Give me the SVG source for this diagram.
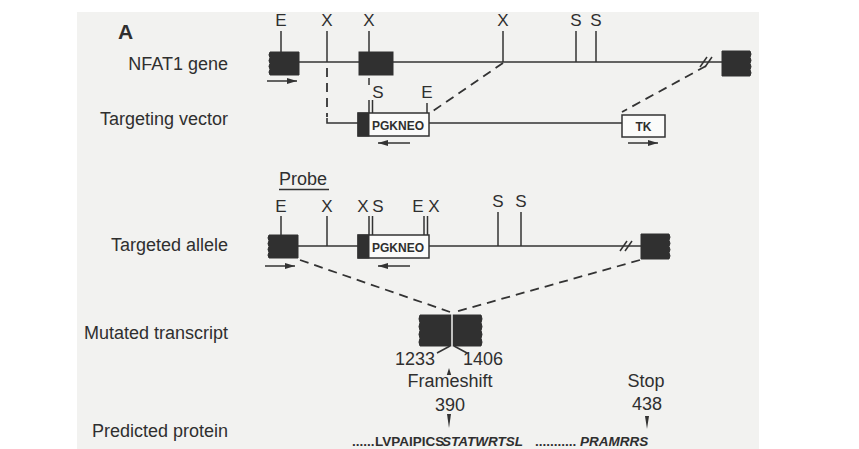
<svg xmlns="http://www.w3.org/2000/svg" width="859" height="449" viewBox="0 0 859 449">
<defs>
<style>
text{font-family:"Liberation Sans",Arial,Helvetica,sans-serif;fill:#2f2f2f}
.lab{font-size:18px;text-anchor:end}
.site{font-size:17px;text-anchor:middle}
.mid{font-size:18px;text-anchor:middle}
.box{font-size:12px;font-weight:bold;text-anchor:middle}
.ln{stroke:#333;stroke-width:1.6;fill:none}
.tk{stroke:#333;stroke-width:1.5;fill:none}
.dash{stroke:#333;stroke-width:1.8;fill:none;stroke-dasharray:9 6}
.exon{fill:#303030;stroke:#303030;stroke-width:1}
.vbox{fill:#fbfbfa;stroke:#333;stroke-width:1.5}
.arr{stroke:#333;stroke-width:1.5;fill:none;marker-end:url(#ah)}
.seq{font-size:13.5px;font-weight:bold}
</style>
<marker id="ah" viewBox="0 0 10 6" refX="10" refY="3" markerWidth="10" markerHeight="6" markerUnits="userSpaceOnUse" orient="auto">
<path d="M0,0 L10,3 L0,6 Z" fill="#333"/>
</marker>
</defs>
<rect x="0" y="0" width="859" height="449" fill="#ffffff"/>
<rect x="77" y="12" width="682" height="437" fill="#f2f2f0"/>
<text x="118" y="39" style="font-size:21px;font-weight:bold">A</text>
<g id="labels">
<text class="lab" x="228" y="70">NFAT1 gene</text>
<text class="lab" x="228" y="125">Targeting vector</text>
<text class="lab" x="228" y="251">Targeted allele</text>
<text class="lab" x="228" y="339">Mutated transcript</text>
<text class="lab" x="228" y="437">Predicted protein</text>
</g>
<g id="gene">
<line class="ln" x1="299" y1="62" x2="722" y2="62"/>
<path class="exon" d="M299,52 L270,52 q-2,2.9 0,5.75 q-2,2.9 0,5.75 q-2,2.9 0,5.75 q-2,2.9 0,5.75 L299,75 Z"/>
<rect class="exon" x="359" y="52" width="34" height="23"/>
<path class="exon" d="M722,51 L750,51 q2,3.1 0,6.25 q2,3.1 0,6.25 q2,3.1 0,6.25 q2,3.1 0,6.25 L722,76 Z"/>
<line class="tk" x1="281" y1="31" x2="281" y2="52"/>
<line class="tk" x1="327" y1="31" x2="327" y2="62"/>
<line class="tk" x1="369" y1="31" x2="369" y2="52"/>
<line class="tk" x1="503" y1="31" x2="503" y2="62"/>
<line class="tk" x1="576" y1="31" x2="576" y2="62"/>
<line class="tk" x1="596" y1="31" x2="596" y2="62"/>
<text class="site" x="281" y="26">E</text>
<text class="site" x="327" y="26">X</text>
<text class="site" x="369" y="26">X</text>
<text class="site" x="503" y="26">X</text>
<text class="site" x="576" y="26">S</text>
<text class="site" x="596" y="26">S</text>
<line class="tk" x1="700" y1="67" x2="707" y2="57"/>
<line class="tk" x1="705" y1="67" x2="712" y2="57"/>
<line class="arr" x1="267" y1="81" x2="297" y2="81"/>
</g>
<g id="vector">
<path class="ln" d="M327,118 V123 H358 M429,123 H622"/>
<rect class="vbox" x="358" y="113" width="71" height="23"/>
<rect class="exon" x="358" y="113" width="11" height="23"/>
<text class="box" x="398" y="130">PGKNEO</text>
<line class="tk" x1="369" y1="100" x2="369" y2="113"/>
<line class="tk" x1="372.5" y1="100" x2="372.5" y2="113"/>
<text class="site" x="378" y="98">S</text>
<line class="tk" x1="427" y1="103" x2="427" y2="113"/>
<text class="site" x="427" y="98">E</text>
<rect class="vbox" x="622" y="115" width="43" height="22"/>
<text class="box" x="643.5" y="131">TK</text>
<line class="arr" x1="410" y1="143" x2="378" y2="143"/>
<line class="arr" x1="628" y1="143" x2="658" y2="143"/>
</g>
<g id="allele">
<text class="mid" x="303" y="185">Probe</text>
<line class="tk" x1="279" y1="189.5" x2="329" y2="189.5"/>
<line class="ln" x1="298" y1="246" x2="641" y2="246"/>
<path class="exon" d="M298,235 L269,235 q-2,2.9 0,5.75 q-2,2.9 0,5.75 q-2,2.9 0,5.75 q-2,2.9 0,5.75 L298,258 Z"/>
<line class="tk" x1="281" y1="216" x2="281" y2="235"/>
<line class="tk" x1="327" y1="216" x2="327" y2="246"/>
<text class="site" x="281" y="212">E</text>
<text class="site" x="327" y="212">X</text>
<rect class="vbox" x="358" y="235" width="71" height="23"/>
<rect class="exon" x="358" y="235" width="11" height="23"/>
<text class="box" x="398" y="252">PGKNEO</text>
<line class="tk" x1="369" y1="216" x2="369" y2="235"/>
<line class="tk" x1="372.5" y1="216" x2="372.5" y2="235"/>
<text class="site" x="363" y="212">X</text>
<text class="site" x="378" y="212">S</text>
<line class="tk" x1="424" y1="216" x2="424" y2="235"/>
<line class="tk" x1="427.5" y1="216" x2="427.5" y2="235"/>
<text class="site" x="418" y="212">E</text>
<text class="site" x="434" y="212">X</text>
<line class="tk" x1="498" y1="212" x2="498" y2="246"/>
<line class="tk" x1="521" y1="212" x2="521" y2="246"/>
<text class="site" x="498" y="207">S</text>
<text class="site" x="521" y="207">S</text>
<line class="tk" x1="620" y1="251" x2="627" y2="241"/>
<line class="tk" x1="625" y1="251" x2="632" y2="241"/>
<path class="exon" d="M641,234 L669,234 q2,3.1 0,6.25 q2,3.1 0,6.25 q2,3.1 0,6.25 q2,3.1 0,6.25 L641,259 Z"/>
<line class="arr" x1="265" y1="266" x2="295" y2="266"/>
<line class="arr" x1="410" y1="266" x2="378" y2="266"/>
</g>
<g id="transcript">
<path class="exon" d="M420,315 L481,315 q2,3.9 0,7.75 q2,3.9 0,7.75 q2,3.9 0,7.75 q2,3.9 0,7.75 L420,346 q-2,-3.9 0,-7.75 q-2,-3.9 0,-7.75 q-2,-3.9 0,-7.75 q-2,-3.9 0,-7.75 Z"/>
<line x1="452" y1="314" x2="452" y2="347" stroke="#f2f2f0" stroke-width="1.5"/>
<line class="tk" x1="450" y1="346" x2="437" y2="353"/>
<line class="tk" x1="454" y1="346" x2="467" y2="353"/>
<text class="mid" x="415" y="365">1233</text>
<text class="mid" x="483" y="365">1406</text>
<polygon points="449,368 446.8,375 451.2,375" fill="#333"/>
<text class="mid" x="450" y="387">Frameshift</text>
<text class="mid" x="450" y="411">390</text>
<polygon points="447,414 451,414 449,428" fill="#333"/>
<text class="mid" x="646" y="387">Stop</text>
<text class="mid" x="647" y="410">438</text>
<polygon points="645,416 649,416 647,429" fill="#333"/>
</g>
<g id="protein">
<text class="seq" y="446"><tspan x="352">......</tspan><tspan x="375">LVPAIPICS</tspan><tspan x="442" font-style="italic">STATWRTSL</tspan><tspan x="535">...........</tspan><tspan x="580" font-style="italic">PRAMRRS</tspan></text>
</g>
<g id="connectors">
<line class="dash" x1="327" y1="68" x2="327" y2="117"/>
<line class="tk" x1="369" y1="78" x2="369" y2="85"/>
<line class="dash" x1="503" y1="63" x2="430" y2="113"/>
<line class="dash" x1="706" y1="66" x2="622" y2="112"/>
<line class="dash" x1="300" y1="260" x2="450" y2="312"/>
<line class="dash" x1="640" y1="260" x2="455" y2="312"/>
</g>
</svg>
